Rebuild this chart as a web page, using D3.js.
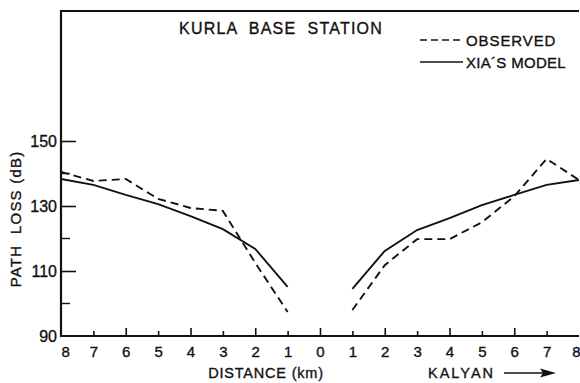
<!DOCTYPE html>
<html>
<head>
<meta charset="utf-8">
<script src="https://cdn.jsdelivr.net/npm/d3@7"></script>
<style>
  body { margin: 0; background: #fff; }
  text { font-family: "Liberation Sans", Arial, sans-serif; fill: #111; stroke: #111; stroke-width: 0.35px; white-space: pre; }
</style>
</head>
<body>
<div class="chart"></div>
<script>
// distance from base station, negative = towards Kurla side, positive = towards Kalyan
let distances = [-8, -7, -6, -5, -4, -3, -2, -1, 1, 2, 3, 4, 5, 6, 7, 8];
let observed = [140.5, 137.7, 138.3, 132.2, 129.4, 128.5, 112.5, 97.4,
                98, 111.8, 119.8, 119.8, 125, 133, 144.5, 138];
let xiaModel = [138.3, 136.5, 133.4, 130.6, 126.9, 122.9, 116.8, 105.1,
                104.5, 116.2, 122.6, 126.3, 130.3, 133.4, 136.5, 138];
let xTicks = d3.range(-8, 9);
let yMajor = [90, 110, 130, 150];
let yMinor = [100, 120, 140];

let width = 580, height = 383;
let margin = {top: 11, right: 1, bottom: 47, left: 61};

let svg = d3.select(".chart").append("svg")
    .attr("width", width)
    .attr("height", height);

let x = d3.scaleLinear().domain([-8, 8]).range([margin.left, width - margin.right]);
let y = d3.scaleLinear().domain([90, 190]).range([height - margin.bottom, margin.top]);

// frame: left, bottom, top
svg.append("path")
  .attr("d", "M" + x(8) + "," + y(190) + "H" + x(-8) + "V" + y(90) + "H" + x(8))
  .attr("fill", "none")
  .attr("stroke", "#111")
  .attr("stroke-width", 2.2);

// x ticks pointing inward
let xAxis = d3.axisBottom(x)
  .tickValues(xTicks)
  .tickSize(0)
  .tickFormat(d => Math.abs(d));

let gx = svg.append("g")
  .attr("transform", "translate(0," + y(90) + ")")
  .call(xAxis);
gx.select(".domain").remove();
gx.selectAll("text")
  .attr("dy", 0)
  .attr("y", 21)
  .style("font-size", "15px")
  .style("font-family", "'Liberation Sans', Arial, sans-serif")
  .attr("fill", "#111");
gx.selectAll(".tick").filter(d => d === -8 || d === 8).select("text")
  .attr("text-anchor", d => d === -8 ? "start" : "end")
  .attr("dx", d => d === -8 ? 0 : 1);
gx.selectAll(".tick line")
  .attr("y2", d => (Math.abs(d) % 2 === 0 ? -8 : -5))
  .attr("stroke", "#111")
  .attr("stroke-width", 1.6)
  .filter(d => d === -8 || d === 8).remove();

// y ticks pointing inward
let yAxis = d3.axisLeft(y)
  .tickValues(yMajor)
  .tickSize(0)
  .tickFormat(d3.format("d"));

let gy = svg.append("g")
  .attr("transform", "translate(" + x(-8) + ",0)")
  .call(yAxis);
gy.select(".domain").remove();
gy.selectAll("text")
  .attr("x", -4)
  .style("font-size", "16px")
  .style("font-family", "'Liberation Sans', Arial, sans-serif")
  .attr("fill", "#111");
gy.selectAll(".tick line")
  .attr("x2", 15)
  .attr("stroke", "#111")
  .attr("stroke-width", 1.6)
  .filter(d => d === 90).remove();

svg.append("g").selectAll("line")
  .data(yMinor)
  .enter().append("line")
  .attr("x1", x(-8))
  .attr("x2", x(-8) + 9)
  .attr("y1", d => y(d))
  .attr("y2", d => y(d))
  .attr("stroke", "#111")
  .attr("stroke-width", 1.4);

// lines, split at the station (no value at 0)
let line = d3.line()
  .x(d => x(d[0]))
  .y(d => y(d[1]));

function halves(values) {
  let pts = distances.map((d, i) => [d, values[i]]);
  return [pts.filter(p => p[0] < 0), pts.filter(p => p[0] > 0)];
}

svg.selectAll(".observed")
  .data(halves(observed))
  .enter().append("path")
  .attr("class", "observed")
  .attr("d", line)
  .attr("fill", "none")
  .attr("stroke", "#111")
  .attr("stroke-width", 1.9)
  .attr("stroke-dasharray", "8,5");

svg.selectAll(".model")
  .data(halves(xiaModel))
  .enter().append("path")
  .attr("class", "model")
  .attr("d", line)
  .attr("fill", "none")
  .attr("stroke", "#111")
  .attr("stroke-width", 1.9);

// title
svg.append("text")
  .attr("x", 281)
  .attr("y", 34)
  .attr("text-anchor", "middle")
  .style("font-size", "16px")
  .style("letter-spacing", "1.2px")
  .text("KURLA  BASE  STATION");

// legend
let legend = svg.append("g");
legend.append("line")
  .attr("x1", 420).attr("x2", 463)
  .attr("y1", 40).attr("y2", 40)
  .attr("stroke", "#111")
  .attr("stroke-width", 1.6)
  .attr("stroke-dasharray", "7,4");
legend.append("text")
  .attr("x", 466).attr("y", 46)
  .style("font-size", "15px")
  .style("letter-spacing", "0.9px")
  .text("OBSERVED");
legend.append("line")
  .attr("x1", 420).attr("x2", 463)
  .attr("y1", 62).attr("y2", 62)
  .attr("stroke", "#111")
  .attr("stroke-width", 1.6);
legend.append("text")
  .attr("x", 466).attr("y", 68)
  .style("font-size", "15px")
  .style("letter-spacing", "0.3px")
  .text("XIA\u00B4S MODEL");

// axis titles
svg.append("text")
  .attr("transform", "translate(21,219) rotate(-90)")
  .attr("text-anchor", "middle")
  .style("font-size", "15px")
  .style("letter-spacing", "1.2px")
  .text("PATH  LOSS (dB)");

svg.append("text")
  .attr("x", 266)
  .attr("y", 378)
  .attr("text-anchor", "middle")
  .style("font-size", "14.5px")
  .style("letter-spacing", "0.8px")
  .text("DISTANCE (km)");

svg.append("text")
  .attr("x", 428)
  .attr("y", 378)
  .style("font-size", "14.5px")
  .style("letter-spacing", "2px")
  .text("KALYAN");

svg.append("line")
  .attr("x1", 504).attr("x2", 546)
  .attr("y1", 373).attr("y2", 373)
  .attr("stroke", "#111")
  .attr("stroke-width", 1.5);
svg.append("path")
  .attr("d", "M556,373 L540,368.5 L543,373 L540,377.5 Z")
  .attr("fill", "#111");
</script>
</body>
</html>
